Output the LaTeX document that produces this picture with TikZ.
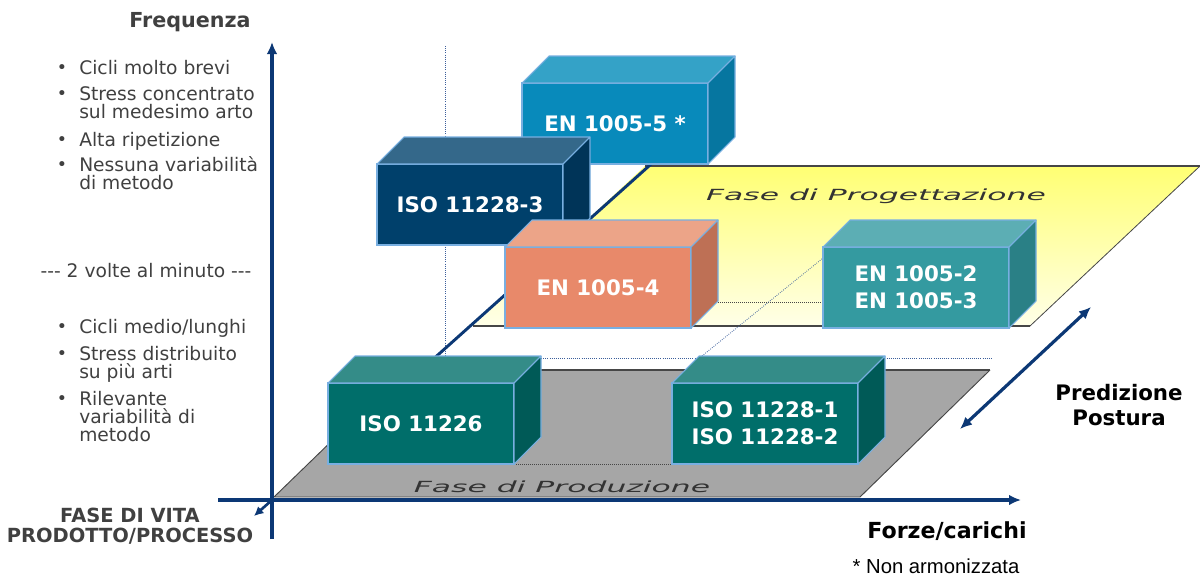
\documentclass[tikz,border=0pt]{standalone}
\usepackage{fontspec}
\setmainfont{DejaVu Sans}
\newfontfamily\arialfont{Liberation Sans}
\usetikzlibrary{arrows.meta}
\definecolor{navy}{RGB}{12,56,117}
\definecolor{txtgrey}{RGB}{64,64,64}
\definecolor{edgeblue}{RGB}{120,175,225}
\definecolor{planegrey}{RGB}{166,166,166}
\definecolor{planeedge}{RGB}{70,70,70}
\definecolor{yeltop}{RGB}{255,255,115}
\definecolor{yelbot}{RGB}{255,255,232}
\definecolor{fiveF}{RGB}{8,138,187}
\definecolor{fiveT}{RGB}{52,162,199}
\definecolor{fiveS}{RGB}{6,118,160}
\definecolor{threeF}{RGB}{0,64,107}
\definecolor{threeT}{RGB}{52,104,138}
\definecolor{threeS}{RGB}{0,52,88}
\definecolor{fourF}{RGB}{232,137,106}
\definecolor{fourT}{RGB}{236,164,136}
\definecolor{fourS}{RGB}{190,112,85}
\definecolor{twoF}{RGB}{52,154,160}
\definecolor{twoT}{RGB}{92,174,180}
\definecolor{twoS}{RGB}{42,128,134}
\definecolor{isoF}{RGB}{0,110,106}
\definecolor{isoT}{RGB}{52,140,136}
\definecolor{isoS}{RGB}{0,90,87}
\definecolor{dotblue}{RGB}{60,95,155}
\tikzset{
  frontface/.style={draw=edgeblue, line width=0.8pt, minimum width=139.5pt,
    minimum height=60.75pt, inner sep=0pt, outer sep=0pt, text=white,
    font=\bfseries\fontsize{16}{20}\selectfont, align=center, anchor=north west},
  faceedge/.style={draw=edgeblue, line width=0.8pt, line join=round},
  axisline/.style={navy, line width=2.4pt, -{Latex[length=9pt,width=8pt]}},
  dotline/.style={dotblue, line width=0.6pt, densely dotted},
  greydot/.style={planeedge, line width=0.5pt, densely dotted},
  itemtxt/.style={anchor=base west, inner sep=0pt, text=txtgrey, font=\fontsize{14}{14}\selectfont},
  bul/.style={anchor=base, inner sep=0pt, text=txtgrey, font=\fontsize{13}{13}\selectfont},
  headtxt/.style={anchor=base, inner sep=0pt, text=txtgrey, font=\bfseries\fontsize{14.6}{14.6}\selectfont},
  blacktxt/.style={anchor=base, inner sep=0pt, text=black, font=\bfseries\fontsize{16}{16}\selectfont},
  planetxt/.style={anchor=base, inner sep=0pt, text=black!80, font=\itshape\fontsize{11.5}{11.5}\selectfont, xscale=2.05}
}
\newcommand\isocube[7]{%
  \node[frontface, fill=#4] (#1) at (#2,#3) {#7};
  \filldraw[faceedge, fill=#5] (#1.north west) -- ++(27,-27) -- ++(186,0) -- (#1.north east) -- cycle;
  \filldraw[faceedge, fill=#6] (#1.north east) -- ++(27,-27) -- ++(0,81) -- (#1.south east) -- cycle;
}
\begin{document}
\begin{tikzpicture}[x=0.75pt,y=-0.75pt]
\useasboundingbox (0,0) rectangle (1200,578);
% planes
\coordinate (y1) at (473,326); \coordinate (y2) at (645,166);
\coordinate (y3) at (1200,166); \coordinate (y4) at (1030,326);
\shade[top color=yeltop, bottom color=yelbot] (y1) -- (y2) -- (y3) -- (y4) -- cycle;
\draw[planeedge, line width=1pt] (y2) -- (y3);
\draw[planeedge, line width=0.6pt] (y3) -- (y4);
\draw[planeedge, line width=1pt] (y1) -- (y4);
\coordinate (g1) at (274,497); \coordinate (g2) at (405,370);
\coordinate (g3) at (990,370); \coordinate (g4) at (860,497);
\fill[planegrey] (g1) -- (g2) -- (g3) -- (g4) -- cycle;
\draw[planeedge, line width=1pt] (g2) -- (g3);
\draw[planeedge, line width=0.7pt] (g3) -- (g4) -- (g1) -- (g2);
\node[planetxt] (prog) at (876,200) {Fase di Progettazione};
\node[planetxt] (prod) at (562,492) {Fase di Produzione};
% dotted guides
\coordinate (v1) at (445,46); \coordinate (v2) at (445,360);
\draw[dotline] (v1) -- (v2);
\coordinate (h1) at (541,358); \coordinate (h2) at (993,358);
\draw[dotline] (h1) -- (h2);
\coordinate (h3) at (692,302); \coordinate (h4) at (823,302);
\draw[greydot] (h3) -- (h4);
\coordinate (h5) at (514,464); \coordinate (h6) at (672,464);
\draw[greydot] (h5) -- (h6);
\coordinate (d1) at (697,360); \coordinate (d2) at (823,258);
\draw[dotline] (d1) -- (d2);
% third axis line
\coordinate (t1) at (430,362); \coordinate (t2) at (659,157);
\draw[navy, line width=2.2pt] (t1) -- (t2);
% axes
\coordinate (o) at (272,500);
\coordinate (ytop) at (272,42); \coordinate (ybot) at (272,539);
\coordinate (xl) at (218,500); \coordinate (xr) at (1021,500);
\coordinate (zz) at (254,516);
\draw[axisline] (ybot) -- (ytop);
\draw[axisline] (xl) -- (xr);
\draw[navy, line width=2pt, -{Latex[length=7pt,width=7pt]}] (o) -- (zz);
\coordinate (p1) at (960,429); \coordinate (p2) at (1091,307);
\draw[navy, line width=2.4pt, {Latex[length=9pt,width=8pt]}-{Latex[length=9pt,width=8pt]}] (p1) -- (p2);
% boxes
\isocube{b5}{522}{83}{fiveF}{fiveT}{fiveS}{EN 1005-5 *}
\isocube{b3}{377}{164}{threeF}{threeT}{threeS}{ISO 11228-3}
\isocube{b4}{505}{247}{fourF}{fourT}{fourS}{EN 1005-4}
\isocube{b2}{823}{247}{twoF}{twoT}{twoS}{EN 1005-2\\EN 1005-3}
\isocube{b1}{328}{383}{isoF}{isoT}{isoS}{ISO 11226}
\isocube{b6}{672}{383}{isoF}{isoT}{isoS}{ISO 11228-1\\ISO 11228-2}
% headings
\node[headtxt, font=\bfseries\fontsize{15.5}{15.5}\selectfont] (freq) at (190,27) {Frequenza};
\node[headtxt] (fase1) at (130,522) {FASE DI VITA};
\node[headtxt] (fase2) at (130,542) {PRODOTTO/PROCESSO};
\node[blacktxt] (pred1) at (1119,400) {Predizione};
\node[blacktxt] (pred2) at (1119,425) {Postura};
\node[blacktxt, font=\bfseries\fontsize{16.6}{16.6}\selectfont] (forze) at (947,538) {Forze/carichi};
\node[anchor=base, inner sep=0pt, font=\arialfont\fontsize{15.2}{15.2}\selectfont] (nonarm) at (936,573) {* Non armonizzata};
% left list
\node[bul] (u1) at (62,73) {•};
\node[itemtxt] (l1) at (79,74) {Cicli molto brevi};
\node[bul] (u2) at (62,99) {•};
\node[itemtxt] (l2) at (79,100) {Stress concentrato};
\node[itemtxt] (l3) at (79,118) {sul medesimo arto};
\node[bul] (u3) at (62,145) {•};
\node[itemtxt] (l4) at (79,146) {Alta ripetizione};
\node[bul] (u4) at (62,170) {•};
\node[itemtxt] (l5) at (79,171) {Nessuna variabilità};
\node[itemtxt] (l6) at (79,189) {di metodo};
\node[anchor=base, inner sep=0pt, text=txtgrey, font=\fontsize{14}{14}\selectfont] (mid) at (146,277) {-{}-{}- 2 volte al minuto -{}-{}-};
\node[bul] (u5) at (62,332) {•};
\node[itemtxt] (l7) at (79,333) {Cicli medio/lunghi};
\node[bul] (u6) at (62,359) {•};
\node[itemtxt] (l8) at (79,360) {Stress distribuito};
\node[itemtxt] (l9) at (79,378) {su più arti};
\node[bul] (u7) at (62,404) {•};
\node[itemtxt] (l10) at (79,405) {Rilevante};
\node[itemtxt] (l11) at (79,423) {variabilità di};
\node[itemtxt] (l12) at (79,441) {metodo};
\end{tikzpicture}
\end{document}
